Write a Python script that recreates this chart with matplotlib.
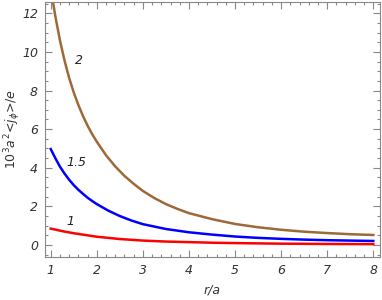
import matplotlib
matplotlib.use("Agg")
import matplotlib.pyplot as plt
from matplotlib.ticker import MultipleLocator

# data
r_brown = [1.0, 1.1, 1.2, 1.3, 1.4, 1.5, 1.6, 1.7, 1.8, 1.9, 2.0, 2.2, 2.4, 2.6, 2.8, 3.0,
           3.25, 3.5, 3.75, 4.0, 4.5, 5.0, 5.5, 6.0, 6.5, 7.0, 7.5, 8.0]
j_brown = [13.3, 11.85, 10.6, 9.55, 8.65, 7.9, 7.25, 6.68, 6.18, 5.74, 5.35, 4.65, 4.07, 3.58, 3.17, 2.8,
           2.43, 2.12, 1.87, 1.65, 1.34, 1.09, 0.92, 0.79, 0.69, 0.62, 0.56, 0.52]
r_blue = [1.0, 1.1, 1.2, 1.3, 1.4, 1.5, 1.6, 1.7, 1.8, 1.9, 2.0, 2.25, 2.5, 2.75, 3.0,
          3.5, 4.0, 4.5, 5.0, 5.5, 6.0, 6.5, 7.0, 7.5, 8.0]
j_blue = [4.97, 4.5, 4.06, 3.7, 3.38, 3.1, 2.86, 2.65, 2.45, 2.28, 2.12, 1.78, 1.5, 1.27, 1.08,
          0.83, 0.66, 0.54, 0.44, 0.37, 0.32, 0.28, 0.25, 0.23, 0.21]
r_red = [1.0, 1.25, 1.5, 1.75, 2.0, 2.5, 3.0, 3.5, 4.0, 4.5, 5.0, 6.0, 7.0, 8.0]
j_red = [0.85, 0.72, 0.61, 0.52, 0.43, 0.31, 0.23, 0.18, 0.15, 0.12, 0.1, 0.07, 0.055, 0.045]
curve_labels = ["1", "1.5", "2"]
label_pos = [(1.43, 1.24), (1.56, 4.28), (1.61, 9.58)]

fig = plt.figure(figsize=(3.82, 3.0), dpi=100)
ax = fig.add_axes([45/382, 1-257/300, 335/382, 255.5/300])

ax.plot(r_red, j_red, color="#ff0000", lw=1.8)
ax.plot(r_blue, j_blue, color="#0000ff", lw=1.8)
ax.plot(r_brown, j_brown, color="#9c6a38", lw=1.8)

for t, (x, y) in zip(curve_labels, label_pos):
    ax.text(x, y, t, fontsize=9, style="italic", color="#222222", ha="center", va="center")

ax.set_xlim(0.876, 8.145)
ax.set_ylim(-0.62, 12.61)
ax.xaxis.set_major_locator(MultipleLocator(1))
ax.xaxis.set_minor_locator(MultipleLocator(0.2))
ax.yaxis.set_major_locator(MultipleLocator(2))
ax.yaxis.set_minor_locator(MultipleLocator(0.5))
ax.tick_params(which="both", direction="in", top=True, right=True, color="#888888", width=0.8)
ax.tick_params(which="major", length=5, labelsize=9, labelcolor="#333333", pad=5)
ax.tick_params(which="minor", length=2.5)
for lab in ax.get_xticklabels() + ax.get_yticklabels():
    lab.set_fontstyle("italic")
for s in ax.spines.values():
    s.set_color("#888888")
    s.set_linewidth(0.8)

ax.set_xlabel("r/a", fontsize=9, style="italic", color="#333333", va="center")
ax.xaxis.set_label_coords(0.5, -0.13)
ax.set_ylabel(r"$\mathit{10^3a^2}$<$\mathit{j_\phi}$>/$\mathit{e}$", fontsize=9, color="#333333", va="center")
ax.yaxis.set_label_coords(-0.097, 0.5)

fig.savefig("out.png", dpi=100)
